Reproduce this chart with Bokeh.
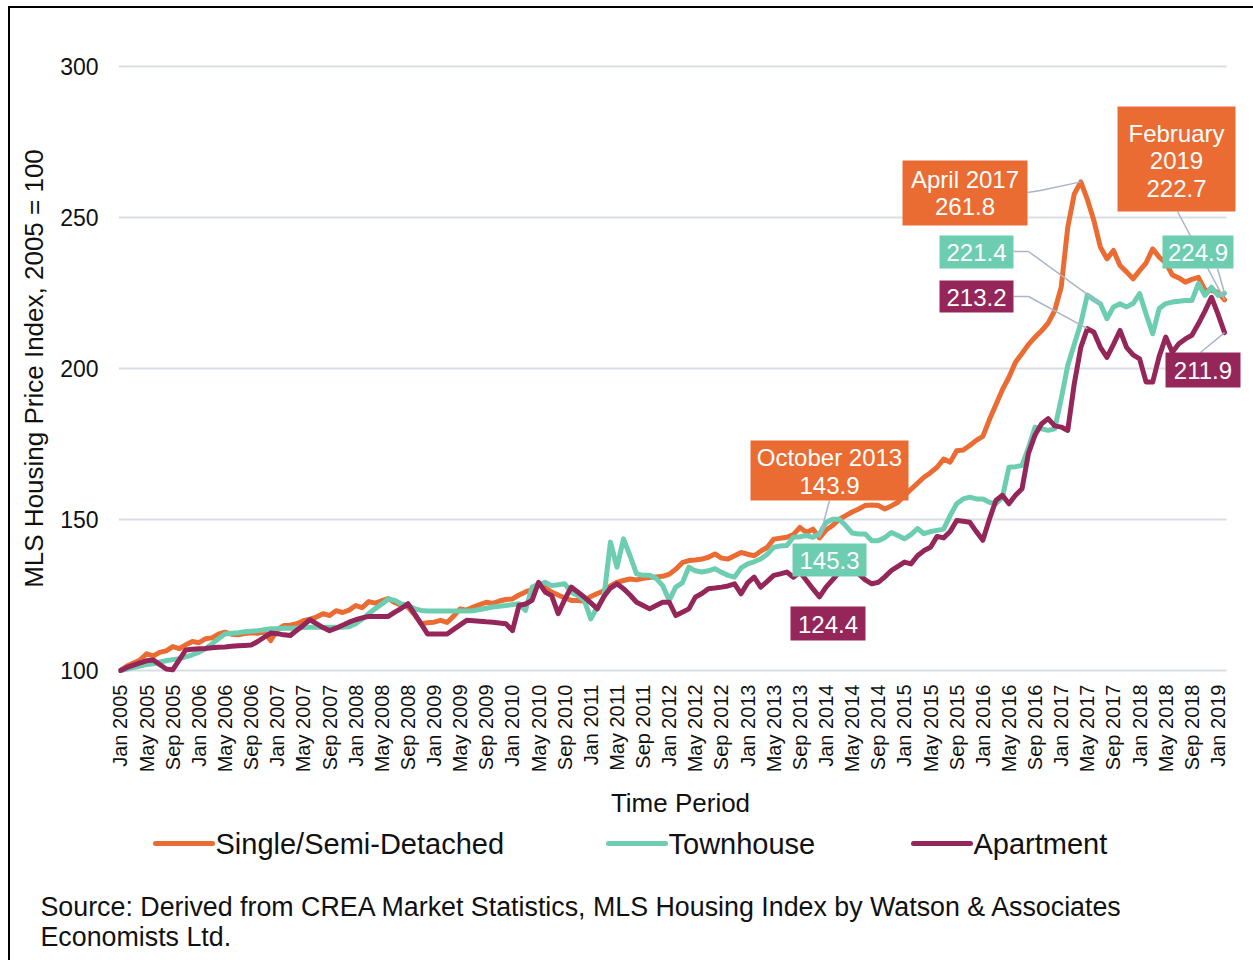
import numpy as np
from bokeh.plotting import figure
from bokeh.models import Range1d, FixedTicker
from bokeh.layouts import column
from bokeh.embed import file_html
from bokeh.resources import INLINE
from bokeh.core.properties import value

# ---------------- data ----------------
tick_labels = [
    "Jan 2005", "May 2005", "Sep 2005", "Jan 2006", "May 2006", "Sep 2006",
    "Jan 2007", "May 2007", "Sep 2007", "Jan 2008", "May 2008", "Sep 2008",
    "Jan 2009", "May 2009", "Sep 2009", "Jan 2010", "May 2010", "Sep 2010",
    "Jan 2011", "May 2011", "Sep 2011", "Jan 2012", "May 2012", "Sep 2012",
    "Jan 2013", "May 2013", "Sep 2013", "Jan 2014", "May 2014", "Sep 2014",
    "Jan 2015", "May 2015", "Sep 2015", "Jan 2016", "May 2016", "Sep 2016",
    "Jan 2017", "May 2017", "Sep 2017", "Jan 2018", "May 2018", "Sep 2018",
    "Jan 2019",
]
y_ticks = [100, 150, 200, 250, 300]

single = [
    100, 101.5, 102.5, 103.5, 105.5, 104.8, 106, 106.5, 107.9, 107.2,
    108.5, 109.6, 109.2, 110.5, 110.8, 112, 112.7, 112, 111.8, 112.2,
    112.5, 112.3, 113, 109.9, 113.5, 114.9, 115, 115.5, 116.5, 117,
    117.7, 118.8, 118.2, 119.8, 119.2, 120, 121.5, 120.8, 122.8, 122.3,
    123.1, 123.8, 122.5, 121.5, 121, 118.5, 115.5, 115.8, 116, 116.6,
    115.9, 118, 120.4, 120, 121, 121.8, 122.6, 122.2, 123, 123.5,
    123.7, 125, 126, 126.8, 128.3, 127.5, 126, 125, 124, 123.2,
    123.2, 123, 124.5, 125.5, 126.4, 128, 129.2, 129.8, 130.3, 130,
    130.5, 130.8, 131, 131.2, 131.9, 133.5, 135.7, 136.4, 136.6, 136.9,
    137.5, 138.6, 137.2, 136.9, 138, 139.1, 138.5, 138, 139.5, 140.8,
    143.5, 143.8, 144.1, 145, 147.4, 145.7, 146.8, 143.9, 146.5, 148,
    150, 151.3, 152.5, 153.5, 154.6, 154.8, 154.6, 153.5, 154.5, 155.7,
    157.9, 160, 162, 164, 165.5, 167.3, 170, 169, 172.8, 173,
    174.5, 176.2, 177.5, 183, 188, 193, 197.1, 202.1, 205, 208,
    210.4, 212.5, 215, 219.2, 226.9, 246.8, 257.8, 261.8, 256, 249,
    240.2, 236.3, 239.1, 234.1, 232, 229.7, 232.4, 235, 239.6, 236.9,
    235, 231, 230, 228.6, 229.5, 230.2, 226, 225.8, 225.2, 222.7,
]
townhouse = [
    100, 100.5, 101, 101.5, 102, 102.2, 102.8, 103.2, 103.6, 103.9,
    104.5, 105.2, 106, 107.2, 108.8, 110.5, 112.1, 112.3, 112.5, 112.8,
    113, 113.2, 113.5, 113.8, 113.8, 114, 114, 114.1, 114.2, 114.3,
    114.3, 114.3, 114.3, 114.3, 114.3, 114.5, 115.5, 117, 118.8, 120.5,
    122, 123.7, 123.2, 122, 121.5, 120.5, 119.9, 119.7, 119.7, 119.7,
    119.7, 119.7, 119.7, 119.7, 119.8, 120.2, 120.6, 121, 121.3, 121.5,
    121.8, 122.1, 119.9, 127.6, 128.5, 129.2, 128.1, 128.4, 128.7, 126,
    124.8, 123.2, 117.1, 121, 124.3, 142.5, 134.2, 143.6, 138, 132,
    131.5, 131.5, 130.5, 128.1, 123.2, 127.6, 129, 134.2, 133, 132.6,
    133, 133.7, 132.5, 131.5, 130.9, 134, 135.3, 136, 136.9, 138.5,
    140.8, 141.2, 141.4, 144.1, 144.3, 144.7, 144.1, 145.3, 149, 150.1,
    150.1, 148, 145.5, 145.2, 145.2, 143, 143, 144, 145.7, 144.7,
    143.6, 145, 147, 145.3, 146, 146.4, 146.8, 151.3, 155.2, 156.8,
    157.4, 156.8, 156.8, 155.7, 155.2, 157.4, 167.3, 167.5, 167.9, 173.9,
    180.6, 180, 179.5, 180, 190, 201, 208, 215, 224.3, 222.8,
    221.4, 216.5, 220.4, 221.4, 220.4, 221.5, 224.8, 218, 211.5, 219.9,
    221.5, 222, 222.3, 222.5, 222.5, 228.1, 224.2, 226.9, 224.2, 224.9,
]
apartment = [
    100, 101, 101.8, 102.5, 103.2, 103.5, 102, 100.5, 100.2, 103.5,
    106.8, 107, 107.2, 107.3, 107.5, 107.7, 107.8, 108, 108.2, 108.3,
    108.4, 109.6, 111, 112.4, 112.2, 111.8, 111.6, 113.3, 115, 116.8,
    115.5, 114.2, 113.2, 114, 115, 116, 116.8, 117.4, 117.9, 117.9,
    117.9, 117.9, 119.3, 120.6, 122.1, 118.8, 115.5, 112.1, 112.1, 112.1,
    112.1, 113.6, 115.1, 116.6, 116.5, 116.3, 116.1, 116, 115.7, 115.5,
    113.2, 121.5, 122, 123.2, 129.2, 126, 124.8, 118.8, 123.5, 127.6,
    126, 124.3, 122.4, 120.4, 124.5, 127.3, 128.7, 127.1, 125, 122.6,
    121.5, 120.4, 121.5, 122.6, 122.6, 118.2, 119.3, 120.4, 124.3, 125.5,
    127.1, 127.3, 127.6, 128, 128.7, 125.4, 129, 130.9, 127.6, 129.5,
    131.5, 132, 132.6, 130.9, 132.6, 129.8, 127, 124.4, 127.6, 130,
    132.6, 134, 134.8, 132, 130, 128.7, 129.2, 131, 133.1, 134.5,
    135.9, 135.3, 138, 139.7, 140.8, 144.4, 143.9, 146, 149.7, 149.4,
    149.1, 146, 143.1, 150, 156.3, 158, 155.2, 158, 160.2, 172,
    178, 181.7, 183.4, 181, 180.6, 179.5, 195, 207, 213.2, 212,
    207, 203.7, 208, 212.6, 207, 204.5, 203.2, 195.5, 195.5, 204,
    210.4, 205.4, 208.2, 209.8, 211, 214.8, 219, 223.6, 218, 211.9,
]
series_names = ["Single/Semi-Detached", "Townhouse", "Apartment"]
source_lines = [
    "Source: Derived from CREA Market Statistics, MLS Housing Index by Watson & Associates",
    "Economists Ltd.",
]

# ---------------- style ----------------
ORANGE = "#EB6C33"
TEAL = "#6DCDB1"
MAROON = "#952659"
GRID = "#D9DEE5"
CONN = "#A9B6C6"
FONT = "Liberation Sans"
TXT = "#111111"

x = list(range(len(single)))
X0 = -0.3
PX_PER_X = 6.533
PX_PER_Y = 3.02

def X(px):  # page pixel -> data x (used only to place annotation boxes)
    return (px - 119.96) / PX_PER_X

def Y(py):  # page pixel -> data y
    return 100 + (670 - py) / PX_PER_Y

H1 = 815
p = figure(width=1243, height=H1, output_backend="svg", toolbar_location=None,
           x_range=Range1d(X0, X0 + 1124 / PX_PER_X), y_range=Range1d(99, 301),
           min_border_left=108, min_border_right=11, min_border_top=55,
           min_border_bottom=H1 - 55 - 610)
p.frame_align = False
p.outline_line_color = None
p.background_fill_color = "white"
p.border_fill_color = "white"
p.xgrid.visible = False
p.ygrid.visible = False

# horizontal gridlines over the category span only
p.segment(x0=[X0] * len(y_ticks), x1=[len(single) - 1 + 0.3] * len(y_ticks),
          y0=y_ticks, y1=y_ticks, line_color=GRID, line_width=2)

# axes
p.yaxis.ticker = FixedTicker(ticks=y_ticks)
p.yaxis.axis_line_color = None
p.yaxis.major_tick_line_color = None
p.yaxis.minor_tick_line_color = None
p.yaxis.major_tick_out = 0
p.yaxis.major_tick_in = 0
p.yaxis.minor_tick_out = 0
p.yaxis.major_label_standoff = 20
p.yaxis.major_label_text_font = FONT
p.yaxis.major_label_text_font_size = "23px"
p.yaxis.major_label_text_color = TXT
p.yaxis.axis_label = "MLS Housing Price Index, 2005 = 100"
p.yaxis.axis_label_text_font = FONT
p.yaxis.axis_label_text_font_size = "26px"
p.yaxis.axis_label_text_font_style = "normal"
p.yaxis.axis_label_text_color = TXT
p.yaxis.axis_label_standoff = 8

tick_pos = list(range(0, len(single), 4))
p.xaxis.ticker = FixedTicker(ticks=tick_pos)
p.xaxis.major_label_overrides = {t: lab for t, lab in zip(tick_pos, tick_labels)}
p.xaxis.major_label_orientation = np.pi / 2
p.xaxis.axis_line_color = None
p.xaxis.major_tick_line_color = None
p.xaxis.minor_tick_line_color = None
p.xaxis.major_tick_out = 0
p.xaxis.major_tick_in = 0
p.xaxis.minor_tick_out = 0
p.xaxis.major_label_standoff = 11
p.xaxis.major_label_text_font = FONT
p.xaxis.major_label_text_font_size = "20px"
p.xaxis.major_label_text_color = TXT
p.xaxis.axis_label = "Time Period"
p.xaxis.axis_label_text_font = FONT
p.xaxis.axis_label_text_font_size = "26px"
p.xaxis.axis_label_text_font_style = "normal"
p.xaxis.axis_label_text_color = TXT
p.xaxis.axis_label_standoff = 13

# series
for ys, c in [(single, ORANGE), (townhouse, TEAL), (apartment, MAROON)]:
    p.line(x, ys, line_color=c, line_width=5, line_join="round", line_cap="round")

# annotations: (lines, colour, box page px (l, r, t, b), text centre ys, elbow points, target)
annotations = [
    (["October 2013", "143.9"], ORANGE, (750, 908, 440, 500), [457, 485],
     [(829, 500)], (107, single[107])),
    (["145.3"], TEAL, (792, 866, 543, 576), [560], None, None),
    (["124.4"], MAROON, (790, 865, 606, 640), [624], None, None),
    (["April 2017", "261.8"], ORANGE, (902, 1027, 160, 225), [179, 206],
     [(1027, 192), (1040, 190)], (147, single[147])),
    (["221.4"], TEAL, (939, 1013, 235, 268), [252],
     [(1013, 251), (1028, 251)], (150, townhouse[150])),
    (["213.2"], MAROON, (939, 1013, 280, 312), [297],
     [(1013, 296), (1028, 296)], (148, apartment[148])),
    (["February", "2019", "222.7"], ORANGE, (1117, 1235, 106, 211), [133, 160, 188],
     [(1177, 211)], (169, single[169])),
    (["224.9"], TEAL, (1162, 1233, 235, 268), [252],
     [(1217, 268)], (169, townhouse[169])),
    (["211.9"], MAROON, (1165, 1240, 352, 387), [370],
     [(1200, 352)], (169, apartment[169])),
]

for lines, c, box, ty, elbows, target in annotations:
    if elbows is None:
        continue
    xs = [X(e[0]) for e in elbows] + [target[0]]
    ys = [Y(e[1]) for e in elbows] + [target[1]]
    p.line(xs, ys, line_color=CONN, line_width=1.5)

for lines, c, box, ty, elbows, target in annotations:
    l, r, t, b = box
    p.quad(left=[X(l)], right=[X(r)], top=[Y(t)], bottom=[Y(b)],
           fill_color=c, line_color=None)
    cx = X((l + r) / 2)
    p.text(x=[cx] * len(lines), y=[Y(v) for v in ty], text=lines,
           text_align="center", text_baseline="middle", text_color="white",
           text_font=value(FONT), text_font_size=value("24px"))

# ---------------- legend + source ----------------
H2 = 137
TOP2 = 8 + H1  # page y where the second figure starts
q = figure(width=1243, height=H2, output_backend="svg", toolbar_location=None,
           x_range=Range1d(0, 1243), y_range=Range1d(H2, 0),
           min_border=0, min_border_left=0, min_border_right=0,
           min_border_top=0, min_border_bottom=0)
q.frame_align = False
q.axis.visible = False
q.grid.visible = False
q.outline_line_color = None

leg_y = 843 - TOP2
leg_x = [145, 598, 903]
for name, c, lx in zip(series_names, [ORANGE, TEAL, MAROON], leg_x):
    q.segment(x0=[lx], x1=[lx + 57], y0=[leg_y], y1=[leg_y], line_color=c,
              line_width=5, line_cap="round")
    q.text(x=[lx + 60], y=[leg_y], text=[name], text_align="left",
           text_baseline="middle", text_color=TXT, text_font=value(FONT),
           text_font_size=value("29px"))

q.text(x=[30, 30], y=[906 - TOP2, 936 - TOP2], text=source_lines, text_align="left",
       text_baseline="middle", text_color=TXT, text_font=value(FONT),
       text_font_size=value("26.8px"))

layout = column(p, q, spacing=0,
                styles={"border-top": "2px solid black", "border-left": "2px solid black",
                        "margin-top": "6px", "margin-left": "8px"})

open("out.html", "w").write(file_html(layout, INLINE))
